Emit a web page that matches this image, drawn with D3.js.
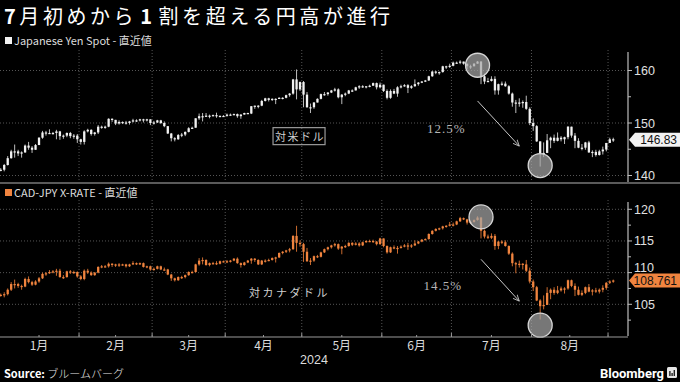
<!DOCTYPE html>
<html>
<head>
<meta charset="utf-8">
<script src="https://cdn.jsdelivr.net/npm/d3@7"></script>
<style>
  html, body { margin: 0; padding: 0; background: #000; }
  svg { display: block; }
</style>
</head>
<body>
<svg id="chart" width="680" height="382"></svg>
<script>
// ---------------------------------------------------------------
// Daily candles, 1 Jan – 3 Sep 2024 (weekday sessions)
// Open of each session = previous session's close (FX trades around the clock)
// ---------------------------------------------------------------
const usdjpyFirstOpen = 141.0;
const usdjpyClose = [
  141.1,142.0,143.3,144.6,144.6,144.2,144.4,145.7,145.3,144.9,145.8,147.2,148.2,148.1,148.1,148.1,148.4,147.5,147.6,148.1,147.5,147.6,146.9,
  146.4,148.4,148.7,147.9,148.2,149.3,149.3,149.3,150.8,150.6,149.9,150.2,150.1,150.0,150.3,150.5,150.5,150.7,150.5,150.7,150.0,
  150.1,150.5,150.0,149.4,148.0,147.1,146.9,147.7,147.8,148.3,149.0,149.1,150.9,151.3,151.3,151.4,151.4,151.5,151.3,151.35,151.35,
  151.6,151.6,151.7,151.3,151.6,151.9,151.8,153.2,153.3,153.3,154.2,154.7,154.4,154.6,154.6,154.8,154.8,155.3,155.6,158.3,156.4,157.8,
  155.4,153.0,153.0,153.9,154.6,155.5,155.5,155.8,156.2,156.4,154.9,155.4,155.6,156.2,156.2,156.8,157.0,157.0,156.9,157.1,157.6,156.8,157.3,
  156.1,154.8,156.1,155.6,156.8,157.0,157.2,156.7,157.0,157.4,157.7,157.9,158.1,158.9,159.8,159.7,159.7,160.8,160.8,160.9,
  161.5,161.5,161.7,161.3,160.8,160.8,161.3,161.7,158.9,157.9,158.0,158.4,156.2,157.4,157.5,157.0,155.6,153.9,153.9,153.8,154.0,152.7,150.0,
  149.4,146.5,144.2,144.3,146.7,147.2,146.6,147.2,146.9,147.3,149.3,147.6,146.6,145.3,145.3,146.3,144.4,144.5,143.9,144.6,144.95,146.2,
  146.9,146.83
];
const usdjpyHigh = [
  141.4,142.2,143.7,144.9,145.9,144.9,144.6,145.9,146.4,145.6,146.0,147.3,148.5,148.5,148.8,148.3,148.7,148.5,147.8,148.2,148.3,147.9,147.9,
  147.0,148.6,148.9,148.8,148.3,149.6,149.5,149.5,150.9,150.9,150.4,150.5,150.3,150.4,150.4,150.8,150.7,150.8,150.8,150.8,150.7,
  150.4,150.6,150.6,150.3,149.4,148.1,147.3,147.9,148.1,148.4,149.2,149.3,150.9,151.8,151.9,151.9,151.6,151.6,151.97,151.45,151.5,
  151.8,151.8,151.8,151.8,151.7,151.95,151.95,153.2,153.3,153.4,154.4,154.8,154.8,154.7,154.7,154.9,154.9,155.4,155.7,158.4,160.2,157.9,
  158.0,155.9,153.7,154.0,154.7,155.6,155.9,155.9,156.3,156.7,156.6,155.5,155.8,156.3,156.4,156.9,157.2,157.2,157.0,157.3,157.7,157.7,157.7,
  157.3,156.4,156.4,156.5,157.0,157.3,157.4,157.4,157.2,158.3,157.8,158.0,158.2,159.0,159.9,159.9,159.8,160.9,160.9,161.3,
  161.7,161.7,161.95,161.6,161.3,161.1,161.4,161.8,161.8,159.4,158.6,158.9,158.9,157.5,157.9,157.9,157.2,155.8,154.4,154.7,154.3,155.2,153.0,
  150.9,149.6,146.4,146.3,147.9,147.4,147.8,148.2,147.5,147.4,149.4,149.1,148.1,147.1,146.0,146.4,146.6,144.8,144.9,144.9,145.5,146.2,
  147.2,147.2
];
const usdjpyLow = [
  140.8,140.8,141.9,143.2,143.4,143.7,143.4,144.3,144.9,144.3,144.9,145.8,147.0,147.6,147.9,147.8,146.9,146.8,147.0,147.3,147.1,147.0,146.2,
  145.9,145.9,148.2,147.6,147.6,147.9,148.9,148.9,149.2,150.2,149.6,149.7,149.8,149.7,149.7,150.1,150.2,150.3,150.1,150.3,149.6,
  149.7,150.0,149.8,149.2,147.9,146.5,146.5,146.8,147.3,147.5,148.2,148.9,149.2,150.6,150.3,151.2,150.9,151.3,151.0,151.1,151.2,
  151.2,151.4,151.5,151.0,150.8,151.6,151.7,151.7,152.7,152.8,153.2,154.1,154.1,154.2,153.6,154.6,154.5,154.7,155.0,155.4,154.5,156.1,
  153.0,152.9,151.9,152.7,153.9,154.5,155.2,155.2,155.7,156.0,154.7,153.6,155.1,155.5,155.9,156.2,156.5,156.7,156.6,156.8,157.1,156.4,156.6,
  155.9,154.5,154.6,155.5,155.0,156.6,156.9,155.7,156.5,156.9,157.1,157.6,157.8,158.0,158.8,159.3,159.2,159.6,160.3,160.5,
  160.8,161.3,161.2,161.1,160.2,160.3,160.8,161.3,157.4,157.4,157.8,157.9,155.4,155.4,157.1,156.9,155.4,153.1,151.9,153.1,152.9,152.5,149.6,
  148.5,146.4,141.7,143.5,144.3,145.2,146.2,146.5,146.5,146.0,146.9,147.2,145.2,145.2,144.8,144.9,144.3,143.5,143.6,143.8,144.0,144.6,
  146.2,146.4
];

const cadjpyFirstOpen = 106.4;
const cadjpyClose = [
  106.5,106.6,107.3,108.2,108.2,107.9,107.8,109.0,108.5,108.1,108.6,109.1,109.8,109.9,110.1,110.2,110.3,109.3,109.3,110.2,110.1,110.1,109.4,
  109.0,110.3,110.0,109.6,110.0,110.9,111.0,111.0,111.4,111.3,111.1,111.3,111.3,111.0,111.3,111.5,111.3,111.5,110.9,111.0,110.5,
  110.6,111.0,110.5,110.5,109.7,109.1,108.8,109.3,109.3,109.6,110.1,110.1,111.3,111.9,112.0,111.2,111.5,111.5,111.4,111.8,111.8,
  111.7,111.9,112.2,111.5,111.2,111.6,111.9,112.2,112.0,111.3,111.9,111.9,112.0,112.3,112.4,113.1,113.3,113.5,113.7,115.8,114.7,114.5,
  113.3,111.8,111.9,112.6,112.5,113.2,113.7,114.0,114.3,114.5,113.8,114.1,114.2,114.7,114.4,114.6,114.3,114.8,115.0,115.0,114.9,114.5,115.4,
  114.2,113.2,114.0,113.8,113.9,114.1,114.3,114.2,114.3,114.6,114.9,115.2,115.3,116.1,116.6,116.9,117.0,117.3,117.4,117.6,
  117.6,118.1,118.6,118.4,117.9,118.0,118.3,118.7,116.6,115.7,115.5,115.8,114.2,114.9,114.8,114.2,113.0,111.5,111.3,111.4,111.3,110.3,108.6,
  107.7,105.6,104.7,104.9,106.8,107.3,106.8,107.2,107.5,107.5,108.8,107.9,107.3,106.5,106.8,107.7,107.0,107.2,107.0,107.3,107.6,108.4,
  108.6,108.761
];
const cadjpyHigh = [
  106.7,106.9,107.5,108.5,108.9,108.4,108.1,109.2,109.4,108.7,108.8,109.3,110.0,110.1,110.4,110.4,110.6,110.6,109.6,110.3,110.4,110.3,110.2,
  109.6,110.5,110.6,110.2,110.1,111.0,111.2,111.2,111.6,111.5,111.4,111.5,111.4,111.4,111.4,111.8,111.6,111.6,111.6,111.1,111.1,
  110.8,111.1,111.1,110.8,110.6,109.8,109.2,109.4,109.5,109.7,110.2,110.3,111.4,112.3,112.4,112.1,111.6,111.7,111.8,111.9,111.9,
  112.0,112.0,112.3,112.4,111.6,111.7,112.0,112.3,112.3,112.1,112.0,112.1,112.2,112.4,112.5,113.2,113.4,113.6,113.9,115.9,117.4,115.1,
  114.7,113.9,112.3,112.7,112.8,113.3,113.8,114.1,114.4,114.7,114.6,114.2,114.4,114.8,114.8,114.8,114.8,114.9,115.1,115.2,115.2,115.0,115.5,
  115.4,114.3,114.1,114.3,114.2,114.3,114.5,114.7,114.5,115.1,115.0,115.3,115.4,116.2,116.7,117.0,117.1,117.4,117.5,118.0,
  117.9,118.2,118.8,118.7,118.5,118.2,118.4,118.9,118.8,116.8,116.0,116.2,116.1,115.0,115.1,115.1,114.3,113.2,111.7,111.9,111.5,112.0,110.8,
  108.9,107.9,105.8,106.4,107.7,107.5,107.7,107.9,107.8,107.7,108.9,108.9,108.3,107.8,107.2,107.8,108.2,107.4,107.6,107.5,108.0,108.5,
  108.8,108.9
];
const cadjpyLow = [
  106.2,106.1,106.4,107.1,107.5,107.6,107.3,107.7,108.3,107.9,108.0,108.4,109.0,109.5,109.8,109.9,109.5,109.2,109.0,109.2,109.8,109.8,109.2,
  108.8,108.8,109.8,109.5,109.5,109.9,110.7,110.8,110.8,110.9,110.9,110.9,111.1,110.8,110.9,111.2,111.2,111.2,110.8,110.7,110.3,
  110.3,110.5,110.4,110.3,109.6,108.7,108.6,108.7,109.0,109.1,109.5,109.9,110.0,111.1,111.3,111.1,111.0,111.3,111.2,111.3,111.6,
  111.5,111.6,111.8,111.4,110.8,111.1,111.5,111.4,111.7,111.2,111.2,111.6,111.8,111.9,111.6,112.3,112.9,113.1,113.2,113.6,113.3,114.1,
  111.7,111.7,111.2,111.7,112.3,112.4,113.1,113.5,113.8,114.1,113.6,112.9,113.9,114.1,114.2,114.3,114.1,114.2,114.7,114.8,114.7,114.3,114.4,
  114.0,113.0,113.1,113.7,113.0,113.8,114.0,113.6,113.9,114.2,114.5,114.8,115.1,115.2,116.0,116.5,116.7,116.8,117.1,117.3,
  117.3,117.5,118.0,118.3,117.6,117.7,117.9,118.2,115.4,115.4,115.3,115.3,113.6,113.7,114.5,114.1,112.8,111.0,109.9,110.8,110.5,110.1,108.3,
  107.1,105.5,102.6,104.2,104.9,105.8,106.5,106.6,107.0,106.7,107.3,107.7,106.3,106.4,106.3,106.6,106.9,106.4,106.8,106.7,106.9,107.3,
  108.2,108.4
];

// Axis ticks and labels
const usdjpyTicks = [140, 150, 160];
const usdjpyMinorTicks = [145, 155];
const cadjpyTicks = [105, 110, 115, 120];
const cadjpyMinorTicks = [102.5, 107.5, 112.5, 117.5];
const monthLabels = ["1月", "2月", "3月", "4月", "5月", "6月", "7月", "8月"];
const yearLabel = "2024";

// Annotations (session date, price level)
const usdjpyCircles = [["2024-07-10", 161.0], ["2024-08-05", 141.9]];
const usdjpyArrow = [["2024-07-10", 154.2], ["2024-07-26", 145.6]];
const usdjpyPct = ["2024-06-27", 149.0, "12.5%"];
const usdjpyTag = ["2024-04-30", 147.3, "対米ドル"];
const cadjpyCircles = [["2024-07-11", 118.8], ["2024-08-05", 101.7]];
const cadjpyArrow = [["2024-07-11", 112.1], ["2024-07-26", 105.5]];
const cadjpyPct = ["2024-06-26", 107.9, "14.5%"];
const cadjpyTag = ["2024-04-25", 106.8, "対カナダドル"];

// ---------------------------------------------------------------
const fmtDay = d3.utcFormat("%Y-%m-%d");
const tradingDays = d3.utcDay
  .range(new Date(Date.UTC(2024, 0, 1)), new Date(Date.UTC(2024, 8, 4)))
  .filter(d => d.getUTCDay() !== 0 && d.getUTCDay() !== 6);

function buildCandles(first, close, high, low) {
  return tradingDays.map((d, i) => {
    const o = i === 0 ? first : close[i - 1];
    const c = close[i];
    return { key: fmtDay(d), date: d, o, c,
             h: Math.max(high[i], o, c), l: Math.min(low[i], o, c) };
  }).filter((d, i) => close[i] !== undefined);
}
const usdCandles = buildCandles(usdjpyFirstOpen, usdjpyClose, usdjpyHigh, usdjpyLow);
const cadCandles = buildCandles(cadjpyFirstOpen, cadjpyClose, cadjpyHigh, cadjpyLow);

const svg = d3.select("#chart");
const FONT_JP = "'Noto Sans CJK JP', 'Noto Sans', sans-serif";
const FONT_NUM = "'Liberation Sans', Arial, sans-serif";
const axisX = 628;

const x = d3.scaleBand().domain(tradingDays.map(fmtDay)).range([-1, 615]).padding(0);
const cx = k => x(k) + x.bandwidth() / 2;

const panels = [
  { top: 50, bottom: 182, y: d3.scaleLinear().domain([140, 160]).range([175.5, 70.5]),
    candles: usdCandles, ticks: usdjpyTicks, minor: usdjpyMinorTicks,
    body: "#f2f2f2", wick: "#bdbdbd", last: usdjpyClose[usdjpyClose.length - 1], lastFmt: d3.format(".2f"),
    tagFill: "#f2f2f2", circles: usdjpyCircles, arrow: usdjpyArrow, pct: usdjpyPct, tag: usdjpyTag, boxed: true,
    legend: "Japanese Yen Spot - 直近値", legendColor: "#f2f2f2", legendY: 45 },
  { top: 200, bottom: 336, y: d3.scaleLinear().domain([105, 120]).range([304.3, 209.3]),
    candles: cadCandles, ticks: cadjpyTicks, minor: cadjpyMinorTicks,
    body: "#f0843f", wick: "#c96a2e", last: cadjpyClose[cadjpyClose.length - 1], lastFmt: d3.format(".3f"),
    tagFill: "#f0843f", circles: cadjpyCircles, arrow: cadjpyArrow, pct: cadjpyPct, tag: cadjpyTag, boxed: false,
    legend: "CAD-JPY X-RATE - 直近値", legendColor: "#f0843f", legendY: 197 }
];

// month boundaries
const monthStarts = tradingDays.filter((d, i) => i === 0 || d.getUTCMonth() !== tradingDays[i - 1].getUTCMonth());
const boundaryX = monthStarts.map(d => x(fmtDay(d)));
const gridX = boundaryX.slice(1);

// arrow head
svg.append("defs").append("marker")
  .attr("id", "arrowhead").attr("viewBox", "0 -5 10 10")
  .attr("refX", 9).attr("refY", 0).attr("markerWidth", 7).attr("markerHeight", 7)
  .attr("markerUnits", "userSpaceOnUse").attr("orient", "auto")
  .append("path").attr("d", "M0,-4L9,0L0,4").attr("fill", "none")
  .attr("stroke", "#c8c8c8").attr("stroke-width", 1.2);

// title
const title = svg.append("text").attr("x", 4).attr("y", 24)
  .attr("font-family", FONT_JP).attr("font-size", 20).attr("fill", "#fff")
  .attr("textLength", 386).attr("lengthAdjust", "spacing");
title.append("tspan").attr("font-weight", 700).text("7");
title.append("tspan").text("月初めから");
title.append("tspan").attr("font-weight", 700).attr("dx", 3).text("1");
title.append("tspan").attr("dx", 3).text("割を超える円高が進行");

panels.forEach(p => {
  const g = svg.append("g");
  const y = p.y;

  // legend
  g.append("rect").attr("x", 5).attr("y", p.legendY - 8).attr("width", 7).attr("height", 7).attr("fill", p.legendColor);
  g.append("text").attr("x", 14).attr("y", p.legendY)
    .attr("font-family", FONT_JP).attr("font-size", 11).attr("fill", "#dcdcdc")
    .text(p.legend);

  // grid
  g.selectAll(".hgrid").data(p.ticks).join("line")
    .attr("x1", 0).attr("x2", axisX).attr("y1", d => y(d)).attr("y2", d => y(d))
    .attr("stroke", "#555").attr("stroke-width", 1).attr("stroke-dasharray", "1,2");
  g.selectAll(".vgrid").data(gridX).join("line")
    .attr("x1", d => d).attr("x2", d => d).attr("y1", p.top).attr("y2", p.bottom)
    .attr("stroke", "#555").attr("stroke-width", 1).attr("stroke-dasharray", "1,2");

  // candles
  const clipId = "clip" + p.top;
  g.append("clipPath").attr("id", clipId).append("rect")
    .attr("x", 0).attr("y", p.top).attr("width", axisX).attr("height", p.bottom - p.top);
  const cg = g.append("g").attr("clip-path", `url(#${clipId})`);
  const bw = Math.max(1.6, x.bandwidth() * 0.66);
  cg.selectAll(".wick").data(p.candles).join("line")
    .attr("x1", d => cx(d.key)).attr("x2", d => cx(d.key))
    .attr("y1", d => y(d.h)).attr("y2", d => y(d.l))
    .attr("stroke", p.wick).attr("stroke-width", 1);
  cg.selectAll(".body").data(p.candles).join("rect")
    .attr("x", d => cx(d.key) - bw / 2).attr("width", bw)
    .attr("y", d => y(Math.max(d.o, d.c)))
    .attr("height", d => Math.max(1.2, Math.abs(y(d.o) - y(d.c))))
    .attr("fill", p.body);

  // right axis
  const ax = g.append("g").attr("transform", `translate(${axisX},0)`);
  ax.append("line").attr("x1", 0).attr("x2", 0).attr("y1", p.top + 2).attr("y2", p.bottom)
    .attr("stroke", "#bdbdbd").attr("stroke-width", 1.2);
  ax.selectAll(".minor").data(p.minor.filter(v => y(v) > p.top && y(v) < p.bottom)).join("line")
    .attr("x1", 0).attr("x2", 3).attr("y1", d => y(d)).attr("y2", d => y(d))
    .attr("stroke", "#bdbdbd");
  ax.selectAll(".major").data(p.ticks).join("line")
    .attr("x1", 0).attr("x2", 4).attr("y1", d => y(d)).attr("y2", d => y(d))
    .attr("stroke", "#bdbdbd");
  const ly = y(p.last);
  // tick labels that would sit under the last-value tag are lifted clear of it
  ax.selectAll(".lab").data(p.ticks).join("text")
    .attr("x", 6).attr("y", d => (Math.abs(y(d) - ly) < 12 ? ly - 13 : y(d))).attr("dy", "0.36em")
    .attr("font-family", FONT_NUM).attr("font-size", 12.5).attr("fill", "#e0e0e0")
    .text(d => d);

  // last value tag
  const tag = g.append("g");
  tag.append("path")
    .attr("d", `M${axisX + 1},${ly} L${axisX + 7},${ly - 7} L680,${ly - 7} L680,${ly + 7} L${axisX + 7},${ly + 7} Z`)
    .attr("fill", p.tagFill);
  tag.append("text").attr("x", 677).attr("y", ly).attr("dy", "0.36em").attr("text-anchor", "end")
    .attr("font-family", FONT_NUM).attr("font-size", 12).attr("fill", "#111")
    .text(p.lastFmt(p.last));

  // annotations
  const an = g.append("g");
  an.append("line")
    .attr("x1", cx(p.arrow[0][0])).attr("y1", y(p.arrow[0][1]))
    .attr("x2", cx(p.arrow[1][0])).attr("y2", y(p.arrow[1][1]))
    .attr("stroke", "#c8c8c8").attr("stroke-width", 1).attr("marker-end", "url(#arrowhead)");
  an.selectAll("circle").data(p.circles).join("circle")
    .attr("cx", d => cx(d[0])).attr("cy", d => y(d[1])).attr("r", 12)
    .attr("fill", "rgba(165,165,165,0.72)").attr("stroke", "#d6d6d6").attr("stroke-width", 1.3);
  an.append("text").attr("x", cx(p.pct[0])).attr("y", y(p.pct[1])).attr("dy", "0.35em")
    .attr("text-anchor", "middle").attr("font-family", "'Liberation Serif', 'DejaVu Serif', serif")
    .attr("font-size", 13).attr("letter-spacing", 1).attr("fill", "#b5b5b5")
    .text(p.pct[2]);
  const tagText = an.append("text").attr("x", cx(p.tag[0])).attr("y", y(p.tag[1])).attr("dy", "0.36em")
    .attr("text-anchor", "middle").attr("font-family", FONT_JP)
    .attr("font-size", 11).attr("letter-spacing", p.boxed ? 1.5 : 2.5).attr("fill", "#d0d0d0")
    .text(p.tag[2]);
  if (p.boxed) {
    const bb = tagText.node().getBBox();
    an.insert("rect", "text").attr("x", bb.x - 2).attr("y", bb.y - 0.5)
      .attr("width", bb.width + 2).attr("height", bb.height + 1)
      .attr("fill", "none").attr("stroke", "#9a9a9a").attr("stroke-width", 1.2);
  }
});

// separator below the upper panel
svg.append("line").attr("x1", 0).attr("x2", 680).attr("y1", 183).attr("y2", 183)
  .attr("stroke", "#5a5a5a").attr("stroke-width", 2);

// time axis
const xa = svg.append("g");
xa.append("line").attr("x1", 0).attr("x2", axisX).attr("y1", 337).attr("y2", 337)
  .attr("stroke", "#9a9a9a").attr("stroke-width", 1.2);
xa.selectAll(".mtick").data(gridX).join("line")
  .attr("x1", d => d).attr("x2", d => d).attr("y1", 337).attr("y2", 333)
  .attr("stroke", "#9a9a9a");
const monthCenters = boundaryX.slice(0, monthLabels.length).map((b, i) => (b + boundaryX[i + 1]) / 2);
xa.selectAll(".htick").data(monthCenters).join("line")
  .attr("x1", d => d).attr("x2", d => d).attr("y1", 337).attr("y2", 335)
  .attr("stroke", "#9a9a9a");
xa.selectAll(".mlab").data(monthLabels).join("text")
  .attr("x", (d, i) => monthCenters[i]).attr("y", 350)
  .attr("text-anchor", "middle").attr("font-family", FONT_JP).attr("font-size", 12).attr("fill", "#dcdcdc")
  .text(d => d);
xa.append("text").attr("x", (0 + axisX) / 2).attr("y", 364)
  .attr("text-anchor", "middle").attr("font-family", FONT_NUM).attr("font-size", 12.5).attr("fill", "#dcdcdc")
  .text(yearLabel);

// footer
const src = svg.append("text").attr("x", 4).attr("y", 378)
  .attr("font-family", FONT_JP).attr("font-size", 11).attr("fill", "#fff");
src.append("tspan").attr("font-weight", 700).text("Source: ");
src.append("tspan").attr("font-weight", 300).attr("fill", "#e8e8e8").text("ブルームバーグ");

svg.append("text").attr("x", 664).attr("y", 378).attr("text-anchor", "end")
  .attr("font-family", "'Roboto', 'Liberation Sans', sans-serif").attr("font-weight", 700)
  .attr("font-size", 13).attr("fill", "#fff").text("Bloomberg");
const logo = svg.append("g").attr("transform", "translate(667,367)");
logo.append("rect").attr("width", 10).attr("height", 11).attr("rx", 1.5).attr("fill", "#e6e6e6");
logo.selectAll(".bar").data([[2.2, 5], [4.4, 3], [6.6, 6]]).join("rect")
  .attr("x", d => d[0]).attr("y", d => 9 - d[1]).attr("width", 1.4).attr("height", d => d[1])
  .attr("fill", "#222");
</script>
</body>
</html>
